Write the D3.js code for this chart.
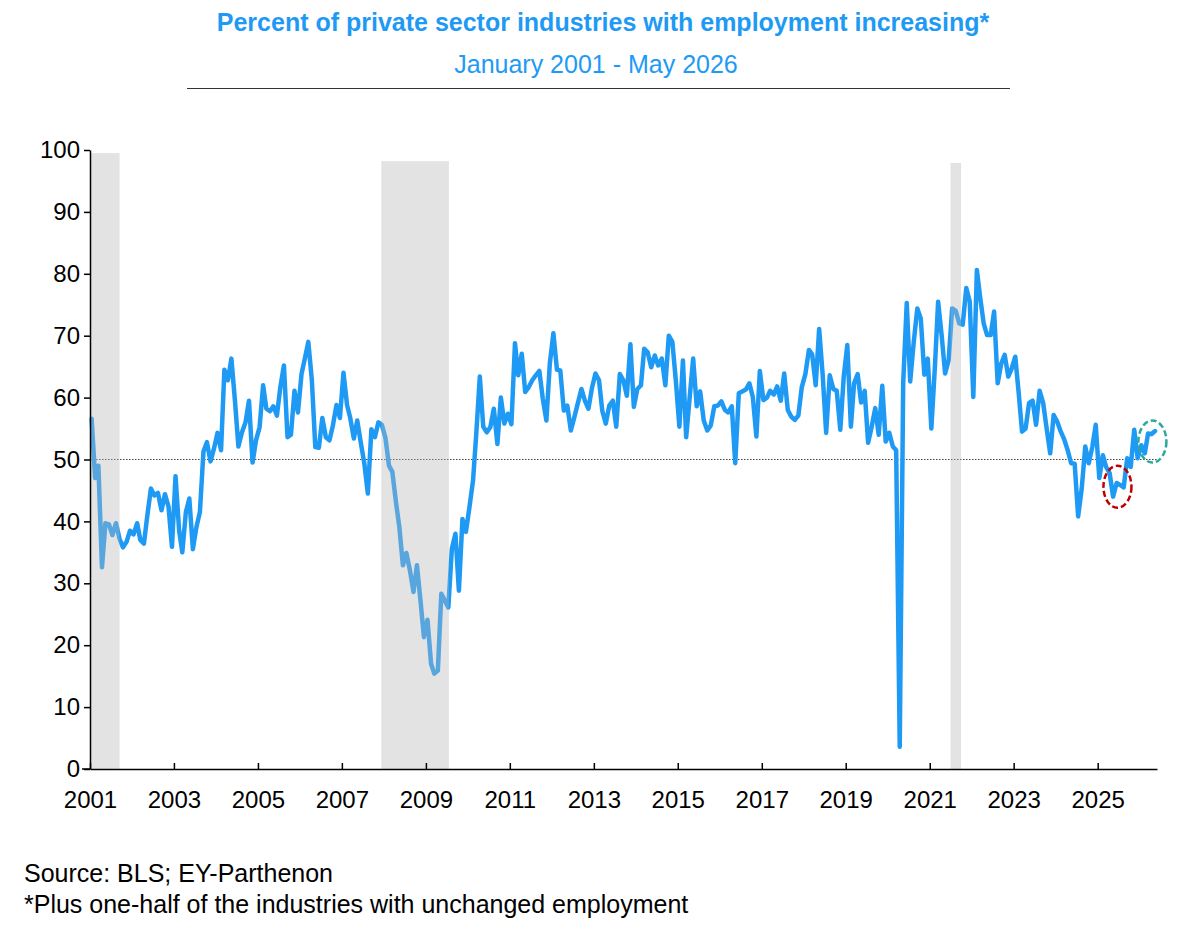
<!DOCTYPE html>
<html>
<head>
<meta charset="utf-8">
<script src="https://cdn.jsdelivr.net/npm/d3@7"></script>
<style>
body { margin: 0; background: #fff; }
text { font-family: "Liberation Sans", Arial, sans-serif; }
</style>
</head>
<body>
<svg id="chart" width="1185" height="934"></svg>
<script>
// monthly readings, Jan 2001 .. May 2026 (one row per year)
const startMonth = "2001-01";
const values = [
  56.6, 47.0, 49.0, 32.6, 39.7, 39.5, 37.8, 39.7, 37.2, 35.8, 36.7, 38.5, // 2001
  37.9, 39.7, 37.0, 36.4, 41.0, 45.3, 44.2, 44.6, 41.8, 44.4, 42.4, 35.9, // 2002
  47.3, 38.6, 35.0, 41.5, 43.7, 35.5, 39.0, 41.5, 51.3, 52.8, 49.7, 51.7, // 2003
  54.3, 51.5, 64.5, 62.8, 66.3, 59.5, 52.1, 54.4, 56.0, 59.5, 49.5, 53.1, // 2004
  55.2, 62.0, 58.2, 57.8, 58.6, 57.1, 61.7, 65.2, 53.6, 54.0, 61.1, 57.6, // 2005
  63.8, 66.5, 69.0, 62.8, 52.0, 51.9, 56.7, 53.6, 53.1, 55.5, 58.8, 56.7, // 2006
  64.0, 58.8, 56.7, 53.4, 56.3, 52.7, 49.4, 44.5, 54.9, 53.6, 56.0, 55.6, // 2007
  53.5, 49.0, 48.0, 43.2, 39.1, 32.9, 34.9, 32.1, 28.6, 32.9, 27.2, 21.3, // 2008
  24.1, 17.0, 15.4, 15.9, 28.3, 27.2, 26.1, 35.6, 38.0, 28.8, 40.4, 38.3, // 2009
  42.3, 46.6, 54.1, 63.4, 55.3, 54.4, 55.2, 58.2, 52.5, 60.0, 55.8, 57.4, // 2010
  55.7, 68.8, 63.6, 67.1, 60.9, 61.7, 62.8, 63.6, 64.3, 59.8, 56.3, 65.5, // 2011
  70.4, 64.5, 64.4, 57.9, 58.7, 54.7, 56.8, 59.1, 61.4, 59.5, 58.2, 61.5, // 2012
  63.9, 62.8, 57.9, 55.8, 58.7, 59.5, 55.3, 63.8, 62.8, 60.3, 68.6, 58.5, // 2013
  61.4, 62.0, 67.9, 67.3, 64.9, 66.8, 65.2, 66.3, 62.0, 70.0, 69.0, 62.8, // 2014
  55.3, 66.0, 53.6, 60.1, 66.3, 58.6, 61.0, 56.3, 54.7, 55.5, 58.6, 58.7, // 2015
  59.4, 58.0, 57.6, 58.6, 49.4, 60.7, 61.0, 61.3, 62.3, 60.1, 53.7, 64.3, // 2016
  59.6, 60.0, 61.1, 60.5, 61.8, 59.5, 63.9, 58.0, 56.9, 56.4, 57.1, 61.7, // 2017
  63.8, 67.7, 67.0, 62.0, 71.1, 63.6, 54.3, 63.6, 61.4, 61.1, 54.8, 63.4, // 2018
  68.5, 55.3, 62.3, 63.8, 59.2, 61.1, 52.7, 55.3, 58.3, 54.0, 61.9, 52.9, // 2019
  54.3, 52.1, 51.5,  3.6, 62.3, 75.3, 62.6, 69.0, 74.4, 72.8, 63.7, 66.3, // 2020
  55.0, 65.0, 75.5, 70.0, 63.9, 66.1, 74.4, 74.0, 72.0, 71.8, 77.7, 75.5, // 2021
  60.1, 80.6, 76.3, 72.0, 70.1, 70.1, 73.9, 62.3, 65.5, 66.9, 63.4, 64.7, // 2022
  66.6, 60.5, 54.5, 55.0, 59.1, 59.5, 55.6, 61.1, 59.1, 55.0, 51.0, 57.2, // 2023
  56.1, 54.5, 53.3, 51.5, 49.4, 49.3, 40.8, 45.3, 52.1, 49.4, 52.0, 55.6, // 2024
  47.0, 50.7, 48.8, 47.8, 44.0, 46.2, 45.9, 45.5, 50.2, 48.8, 54.8, 50.2, // 2025
  52.3, 51.0, 54.2, 54.1, 54.6                                            // 2026
];

// shaded periods
const recessionStarts = ["2001-01-01", "2007-12-10", "2021-07-01"];
const recessionEnds   = ["2001-09-15", "2009-07-20", "2021-10-01"];
const recessionTops   = [99.5, 98.2, 97.9];

const yTicks = [0, 10, 20, 30, 40, 50, 60, 70, 80, 90, 100];
const xTickYears = [2001, 2003, 2005, 2007, 2009, 2011, 2013, 2015, 2017, 2019, 2021, 2023, 2025];
const refLevel = 50;

// dashed circles on the last months
const markDates  = ["2025-06-22", "2026-04-22"];
const markValues = [45.6, 52.9];
const markColors = ["#c00000", "#2ba99c"];

const titleText = "Percent of private sector industries with employment increasing*";
const subtitleText = "January 2001 - May 2026";
const notes = ["Source: BLS; EY-Parthenon", "*Plus one-half of the industries with unchanged employment"];

const blue = "#1e9af5";
const parseDay = d3.timeParse("%Y-%m-%d");
const start = d3.timeParse("%Y-%m")(startMonth);

const data = values.map((v, i) => ({
  date: d3.timeDay.offset(d3.timeMonth.offset(start, i), 14),
  value: v
}));

const svg = d3.select("#chart");

const x = d3.scaleTime()
  .domain([new Date(2001, 0, 1), new Date(2026, 5, 1)])
  .range([90, 1157]);
const y = d3.scaleLinear()
  .domain([0, 100])
  .range([769, 150]);

// titles
svg.append("text")
  .attr("x", 603).attr("y", 31)
  .attr("text-anchor", "middle")
  .attr("font-size", 25).attr("font-weight", "bold")
  .attr("fill", blue)
  .text(titleText);
svg.append("text")
  .attr("x", 596).attr("y", 73)
  .attr("text-anchor", "middle")
  .attr("font-size", 25)
  .attr("fill", blue)
  .text(subtitleText);
svg.append("line")
  .attr("x1", 187).attr("x2", 1010)
  .attr("y1", 88.5).attr("y2", 88.5)
  .attr("stroke", "#333").attr("stroke-width", 1);

// 50 reference
svg.append("line")
  .attr("x1", x.range()[0]).attr("x2", x.range()[1])
  .attr("y1", y(refLevel)).attr("y2", y(refLevel))
  .attr("stroke", "#444").attr("stroke-width", 1)
  .attr("stroke-dasharray", "1.5,1.5");

// series
const line = d3.line()
  .x(d => x(d.date))
  .y(d => y(d.value));

svg.append("path")
  .datum(data)
  .attr("d", line)
  .attr("fill", "none")
  .attr("stroke", blue)
  .attr("stroke-width", 4.5)
  .attr("stroke-linejoin", "round")
  .attr("stroke-linecap", "round");

// shading sits over the line so it reads paler inside
svg.selectAll("rect.rec")
  .data(recessionStarts.map((s, i) => ({ s: parseDay(s), e: parseDay(recessionEnds[i]), top: recessionTops[i] })))
  .enter().append("rect")
  .attr("class", "rec")
  .attr("x", d => x(d.s))
  .attr("width", d => x(d.e) - x(d.s))
  .attr("y", d => y(d.top))
  .attr("height", d => y(0) - y(d.top))
  .attr("fill", "#b7b7b7")
  .attr("fill-opacity", 0.39);

// axes
const yAxis = d3.axisLeft(y)
  .tickValues(yTicks)
  .tickSizeInner(6)
  .tickSizeOuter(0)
  .tickPadding(4);
const gy = svg.append("g")
  .attr("transform", `translate(${x.range()[0]},0)`)
  .call(yAxis);

const xAxis = d3.axisBottom(x)
  .tickValues(xTickYears.map(yr => new Date(yr, 0, 1)))
  .tickFormat(d3.timeFormat("%Y"))
  .tickSizeInner(-6)
  .tickSizeOuter(0)
  .tickPadding(22);
const gx = svg.append("g")
  .attr("transform", `translate(0,${y(0)})`)
  .call(xAxis);

svg.append("line")
  .attr("x1", 82).attr("x2", x.range()[0])
  .attr("y1", y(0)).attr("y2", y(0))
  .attr("stroke", "#000").attr("stroke-width", 1.5);

[gx, gy].forEach(g => {
  g.select(".domain").attr("stroke", "#000").attr("stroke-width", 1.5);
  g.selectAll(".tick line").attr("stroke", "#000").attr("stroke-width", 1.5);
  g.selectAll(".tick text")
    .attr("font-size", 24)
    .attr("font-family", "'Liberation Sans', Arial, sans-serif")
    .attr("fill", "#000");
});

// dashed markers
svg.selectAll("ellipse.mark")
  .data(markDates.map((d, i) => ({ date: parseDay(d), value: markValues[i], color: markColors[i] })))
  .enter().append("ellipse")
  .attr("class", "mark")
  .attr("cx", d => x(d.date))
  .attr("cy", d => y(d.value))
  .attr("rx", 14)
  .attr("ry", 21)
  .attr("fill", "none")
  .attr("stroke", d => d.color)
  .attr("stroke-width", 2.5)
  .attr("stroke-dasharray", "6,3");

// footnotes
svg.selectAll("text.note")
  .data(notes)
  .enter().append("text")
  .attr("class", "note")
  .attr("x", 24)
  .attr("y", (d, i) => 882 + i * 31)
  .attr("font-size", 25)
  .attr("fill", "#000")
  .text(d => d);
</script>
</body>
</html>
